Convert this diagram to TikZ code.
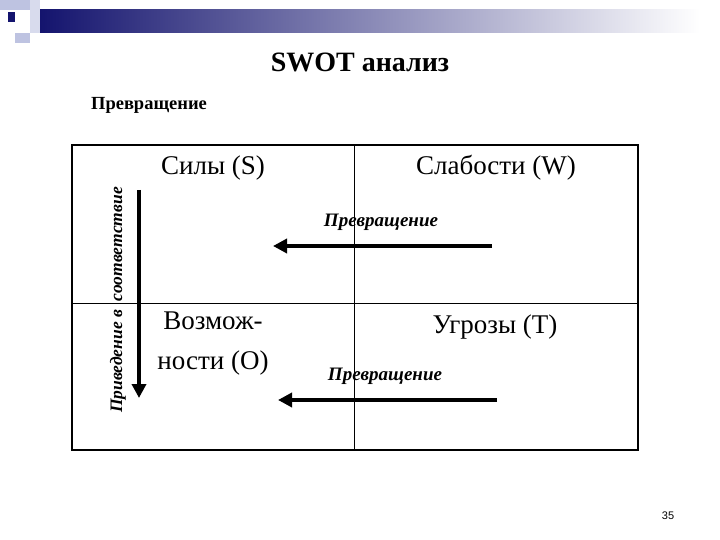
\documentclass[tikz,border=0pt]{standalone}
\usepackage{fontspec}
\usetikzlibrary{arrows.meta}
\setmainfont{Liberation Serif}
\newfontfamily\sansf{Liberation Sans}
\begin{document}
\begin{tikzpicture}[x=1pt,y=-1pt,
  lbl/.style={font=\fontsize{27}{32}\selectfont, align=center},
  conv/.style={font=\bfseries\itshape\fontsize{19}{22}\selectfont},
  bigarrow/.style={line width=3.5pt,-{Triangle[length=14pt,width=14pt]}}]
\useasboundingbox (0,0) rectangle (720,540);
\definecolor{navy}{RGB}{20,20,110}
\definecolor{lightb}{RGB}{190,195,225}
\shade[left color=navy,right color=white] (40,10) rectangle (700,33);
\fill[lightb] (0,0) rectangle (30,10);
\fill[lightb] (15,33) rectangle (30,43);
\fill[lightb!60] (30,0) rectangle (40,33);
\fill[navy] (8,12) rectangle (15,22);
\node[font=\bfseries\fontsize{28}{32}\selectfont] (title) at (360,62) {SWOT анализ};
\node[conv, font=\bfseries\fontsize{18.5}{22}\selectfont] (top) at (149,105) {Превращение};
\draw[line width=1.8pt] (72,145) rectangle (638,450);
\coordinate (vt) at (354,145); \coordinate (vb) at (354,450);
\coordinate (hl) at (72,303); \coordinate (hr) at (638,303);
\draw[line width=0.6pt] (vt) -- (vb) (hl) -- (hr);
\node[lbl] (s) at (213,168) {Силы (S)};
\node[lbl] (w) at (496,168) {Слабости (W)};
\node[lbl, font=\fontsize{27}{40}\selectfont] (o) at (213,344) {Возмож-\\ности (O)};
\node[lbl] (t) at (495,327) {Угрозы (T)};
\node[conv, font=\bfseries\itshape\fontsize{17.5}{20}\selectfont, rotate=90] (side) at (118,300) {Приведение в\ \ соответствие};
\coordinate (a1s) at (139,190); \coordinate (a1e) at (139,398);
\draw[bigarrow] (a1s) -- (a1e);
\node[conv] (c1) at (381,222) {Превращение};
\coordinate (a2s) at (492,246); \coordinate (a2e) at (273,246);
\draw[bigarrow] (a2s) -- (a2e);
\node[conv] (c2) at (385,376) {Превращение};
\coordinate (a3s) at (497,400); \coordinate (a3e) at (278,400);
\draw[bigarrow] (a3s) -- (a3e);
\node[font=\sansf\fontsize{11}{13}\selectfont] (pg) at (668,516) {35};
\end{tikzpicture}
\end{document}
